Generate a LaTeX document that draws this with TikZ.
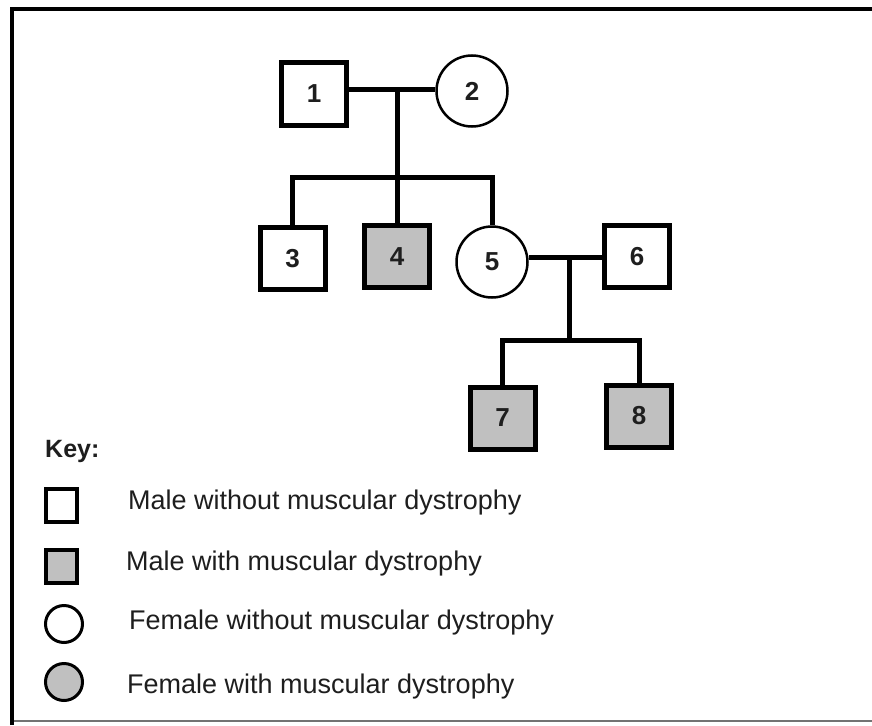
\documentclass[tikz,border=0pt]{standalone}
\usepackage{fontspec}
\setmainfont{Liberation Sans}
\definecolor{affgray}{RGB}{192,192,192}
\definecolor{inkgray}{RGB}{30,30,30}
\begin{document}
\begin{tikzpicture}[x=1pt,y=-1pt,
  male/.style={draw, rectangle, line width=5pt, minimum width=65pt, minimum height=62pt, inner sep=0pt,
    font=\fontsize{26}{26}\selectfont\bfseries, text=inkgray},
  female/.style={draw, circle, line width=2.5pt, minimum size=71pt, inner sep=0pt,
    font=\fontsize{26}{26}\selectfont\bfseries, text=inkgray},
  aff/.style={fill=affgray},
  link/.style={line width=5pt},
  keymale/.style={draw, rectangle, line width=4pt, minimum width=31pt, minimum height=33pt, inner sep=0pt},
  keyfemale/.style={draw, circle, line width=3pt, minimum size=37pt, inner sep=0pt},
  keytext/.style={anchor=west, inner sep=0pt, font=\fontsize{27}{27}\selectfont, text=inkgray}
]
\useasboundingbox (0,0) rectangle (872,725);
\fill[white] (0,0) rectangle (872,725);
% frame
\draw[line width=1.5pt, black!55] (11.5,721) -- (872,721);
\draw[line width=4pt] (11.5,725) -- (11.5,9.5) -- (872,9.5);

% individuals
\node[male] (n1) at (314,94) {1};
\node[female] (n2) at (472,91) {2};
\node[male] (n3) at (292.5,258.5) {3};
\node[male, aff] (n4) at (397,256.5) {4};
\node[female] (n5) at (492,262) {5};
\node[male] (n6) at (637,256.5) {6};
\node[male, aff] (n7) at (502.5,418) {7};
\node[male, aff] (n8) at (639,416) {8};

% couple 1-2
\coordinate (m12) at (397,89);
\coordinate (s12) at (397,177);
\draw[link] (n1.east |- m12) -- (n2.west |- m12);
\draw[link] (m12) -- (s12);
\draw[link] (n3.north) |- (s12) -| (n5.north);
\draw[link] (n4.north) -- (n4.north |- s12);

% couple 5-6
\coordinate (m56) at (569,257);
\coordinate (s56) at (569,340);
\draw[link] (n5.east |- m56) -- (n6.west |- m56);
\draw[link] (m56) -- (s56);
\draw[link] (n7.north) |- (s56) -| (n8.north);

% key
\node[anchor=west, inner sep=0pt, font=\fontsize{25}{25}\selectfont\bfseries, text=inkgray] (key) at (45,451) {Key:};
\node[keymale] (k1) at (61.5,505.5) {};
\node[keymale, aff] (k2) at (61.5,566) {};
\node[keyfemale] (k3) at (64,624) {};
\node[keyfemale, aff] (k4) at (64,682) {};
\node[keytext] (t1) at (128,503) {Male without muscular dystrophy};
\node[keytext] (t2) at (126,564) {Male with muscular dystrophy};
\node[keytext] (t3) at (129,623) {Female without muscular dystrophy};
\node[keytext] (t4) at (127,687) {Female with muscular dystrophy};
\end{tikzpicture}
\end{document}
